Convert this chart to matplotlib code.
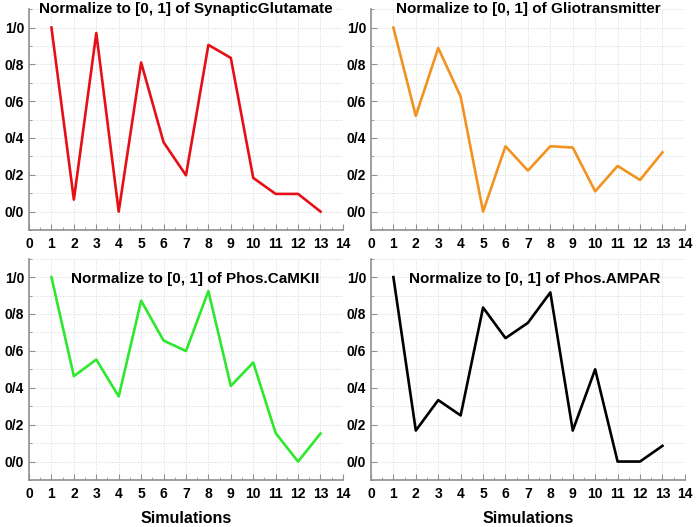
import matplotlib.pyplot as plt
from matplotlib.ticker import MultipleLocator

sims = list(range(1, 14))

glutamate = [1.0, 0.065, 0.97, 0.0, 0.81, 0.377, 0.197, 0.906, 0.835, 0.183, 0.096, 0.096, 0.0]
glio = [1.0, 0.52, 0.889, 0.625, 0.0, 0.355, 0.223, 0.355, 0.348, 0.11, 0.248, 0.172, 0.322]
camkii = [1.0, 0.463, 0.553, 0.353, 0.872, 0.656, 0.599, 0.924, 0.41, 0.537, 0.154, 0.0, 0.152]
ampar = [1.0, 0.168, 0.333, 0.25, 0.835, 0.669, 0.752, 0.917, 0.168, 0.5, 0.0, 0.0, 0.085]

titles = ["Normalize to [0, 1] of SynapticGlutamate",
          "Normalize to [0, 1] of Gliotransmitter",
          "Normalize to [0, 1] of Phos.CaMKII",
          "Normalize to [0, 1] of Phos.AMPAR"]
colors = ["#e60f16", "#f39220", "#2ee82e", "#000000"]
yticks = [0.0, 0.2, 0.4, 0.6, 0.8, 1.0]
ytick_labels = ["0/0", "0/2", "0/4", "0/6", "0/8", "1/0"]

plt.rcParams['font.family'] = ['Liberation Sans', 'DejaVu Sans']

fig = plt.figure(figsize=(6.96, 5.27), dpi=100)
positions = [
    [0.0417, 0.5636, 0.451, 0.419],
    [0.533, 0.5636, 0.451, 0.419],
    [0.0417, 0.0892, 0.451, 0.42],
    [0.533, 0.0892, 0.451, 0.42],
]
series = [glutamate, glio, camkii, ampar]
title_x = [0.5, 0.5, 0.53, 0.52]

for i in range(4):
    ax = fig.add_axes(positions[i])
    ax.plot(sims, series[i], color=colors[i], lw=1.9, zorder=3)
    ax.set_xlim(0, 14)
    ax.set_ylim(-0.1, 1.1)
    ax.set_xticks(range(0, 15))
    ax.set_yticks(yticks)
    ax.set_yticklabels(ytick_labels)
    ax.xaxis.set_minor_locator(MultipleLocator(0.5))
    ax.yaxis.set_minor_locator(MultipleLocator(0.1))
    ax.grid(which='major', axis='x', color='#d8d8d8', ls=':', lw=0.7)
    ax.grid(which='both', axis='y', color='#d8d8d8', ls=':', lw=0.7)
    ax.set_axisbelow(True)
    for s in ['top', 'right']:
        ax.spines[s].set_visible(False)
    for s in ['left', 'bottom']:
        ax.spines[s].set_color('#909090')
        ax.spines[s].set_linewidth(1.2)
    ax.tick_params(which='major', direction='in', length=4, color='#909090',
                   labelsize=10)
    ax.tick_params(axis='x', which='major', pad=5)
    ax.tick_params(which='minor', direction='in', length=2, color='#909090')
    for lab in ax.get_xticklabels() + ax.get_yticklabels():
        lab.set_fontweight('bold')
    if i < 2:
        ax.text(title_x[i], 1.0, titles[i], transform=ax.transAxes, ha='center',
                va='center', fontsize=11, fontweight='bold')
    else:
        ax.text(title_x[i], 0.91, titles[i], transform=ax.transAxes, ha='center',
                va='center', fontsize=11, fontweight='bold')
        ax.set_xlabel("Simulations", fontsize=11.5, fontweight='bold', labelpad=7)

fig.savefig("out.png", dpi=100)
